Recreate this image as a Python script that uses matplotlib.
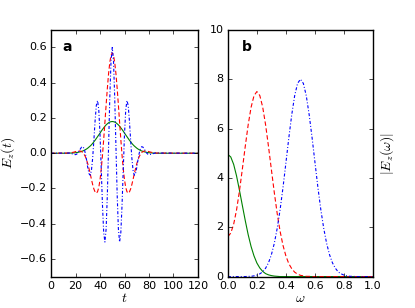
import matplotlib
matplotlib.use("Agg")
import matplotlib.pyplot as plt

plt.style.use("classic")
plt.rcParams["lines.scale_dashes"] = False

# ---- time-domain data (t = 14..86 step 1, padded with zeros at 0 and 120)
t_inner = list(range(14, 87))
t = [0] + t_inner + [120]

green_t = [.000, .001, .001, .001, .002, .002, .003, .004, .005, .007, .008, .011, .013, .016, .020,
           .024, .029, .035, .041, .048, .056, .065, .074, .084, .094, .104, .114, .125, .135, .144,
           .153, .161, .167, .173, .177, .179, .180, .179, .177, .173, .167, .161, .153, .144, .135,
           .125, .114, .104, .094, .084, .074, .065, .056, .048, .041, .035, .029, .024, .020, .016,
           .013, .011, .008, .007, .005, .004, .003, .002, .002, .001, .001, .001, .000]

red_half = [.570, .556, .516, .452, .369, .275, .175, .078, -.012, -.090, -.151, -.194, -.218,
            -.227, -.220, -.203, -.178, -.148, -.117, -.087, -.060, -.038, -.019, -.006, .004,
            .009, .012, .013, .012, .011, .009, .007, .005, .004, .003, .002, .001]
blue_half = [.600, .524, .318, .041, -.232, -.429, -.504, -.450, -.293, -.088, .108, .245, .299,
             .272, .186, .075, -.027, -.097, -.125, -.116, -.082, -.038, .000, .026, .037, .035,
             .025, .013, .002, -.005, -.008, -.007, -.005, -.003, -.001, .001, .001]
red_t = red_half[:0:-1] + red_half
blue_t = blue_half[:0:-1] + blue_half

green_t = [0] + green_t + [0]
red_t = [0] + red_t + [0]
blue_t = [0] + blue_t + [0]

# ---- spectrum data (omega = 0..1 step 0.02)
omega = [round(0.02 * k, 2) for k in range(51)]
green_w = [4.95, 4.85, 4.55, 4.08, 3.50, 2.88, 2.27, 1.70, 1.22, 0.84, 0.55, 0.35, 0.21, 0.12,
           0.07, 0.04, 0.02, 0.01] + [0.0] * 33
red_w = [1.62, 1.76, 2.12, 2.70, 3.47, 4.36, 5.28, 6.15, 6.86, 7.33, 7.50, 7.34, 6.87, 6.15, 5.27,
         4.33, 3.40, 2.55, 1.83, 1.26, 0.83, 0.52, 0.32, 0.18, 0.10, 0.05, 0.03, 0.01, 0.01] + [0.0] * 22
blue_w = [0.0] * 7 + [0.01, 0.01, 0.03, 0.06, 0.11, 0.19, 0.34, 0.56, 0.89, 1.35, 1.96, 2.72, 3.62,
                      4.62, 5.63, 6.56, 7.33, 7.83, 8.00, 7.83, 7.33, 6.56, 5.63, 4.62, 3.62, 2.72,
                      1.96, 1.35, 0.89, 0.56, 0.34, 0.19, 0.11, 0.06, 0.03, 0.01, 0.01] + [0.0] * 7

fig = plt.figure(figsize=(4.15, 3.08), dpi=100, facecolor="white")
ax1 = fig.add_axes([0.123, 0.102, 0.354, 0.801])
ax2 = fig.add_axes([0.549, 0.102, 0.350, 0.801])

lw = 0.8
red_dash = (3.2, 1.8)
blue_dash = (2.2, 1.4, 0.7, 1.4)

fs = 8
ax1.plot(t, green_t, color="g", lw=lw, ls="-")
ax1.plot(t, red_t, color="r", lw=lw, dashes=red_dash)
ax1.plot(t, blue_t, color="b", lw=lw, dashes=blue_dash)
ax1.set_xlim(0, 120)
ax1.set_ylim(-0.7, 0.7)
ax1.set_xticks([0, 20, 40, 60, 80, 100, 120])
ax1.set_yticks([-0.6, -0.4, -0.2, 0.0, 0.2, 0.4, 0.6])
ax1.set_xlabel("$t$", fontsize=10, labelpad=0)
ax1.set_ylabel("$E_z(t)$", fontsize=10, labelpad=2)
ax1.text(0.08, 0.93, "a", transform=ax1.transAxes, fontsize=10, fontweight="bold", va="center")

ax2.plot(omega, green_w, color="g", lw=lw, ls="-")
ax2.plot(omega, red_w, color="r", lw=lw, dashes=red_dash)
ax2.plot(omega, blue_w, color="b", lw=lw, dashes=blue_dash)
ax2.set_xlim(0, 1)
ax2.set_ylim(0, 10)
ax2.set_xticks([0.0, 0.2, 0.4, 0.6, 0.8, 1.0])
ax2.set_yticks([0, 2, 4, 6, 8, 10])
ax2.set_xlabel(r"$\omega$", fontsize=10, labelpad=0)
ax2.yaxis.set_label_position("right")
ax2.set_ylabel(r"$|E_z(\omega)|$", fontsize=10, labelpad=4)
ax2.text(0.1, 0.93, "b", transform=ax2.transAxes, fontsize=10, fontweight="bold", va="center")

for ax in (ax1, ax2):
    ax.tick_params(labelsize=fs, direction="in", top=True, right=True, length=3, pad=3)

fig.savefig("out.png", dpi=100, facecolor="white")
